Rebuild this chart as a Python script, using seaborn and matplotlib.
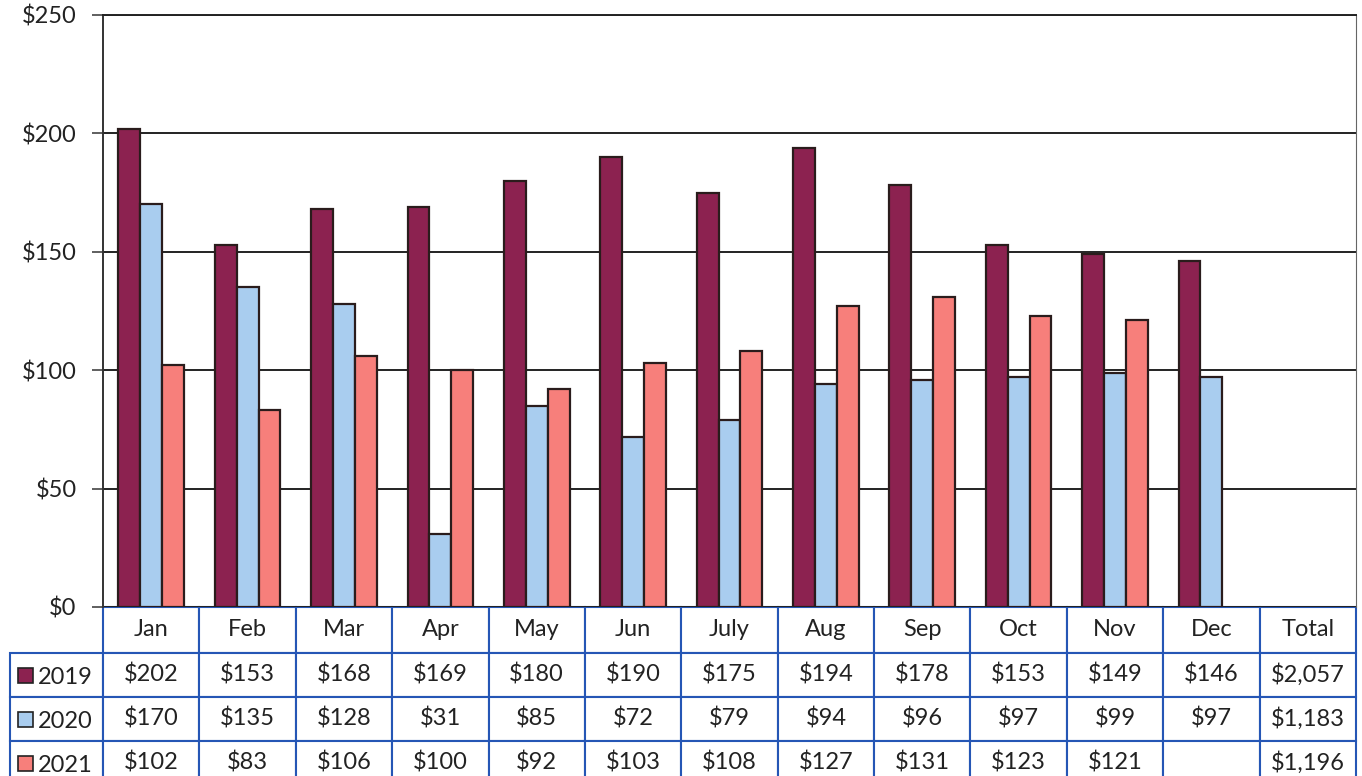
import pandas as pd
import numpy as np
import matplotlib
matplotlib.use('Agg')
import matplotlib.pyplot as plt
import seaborn as sns
from matplotlib.table import Table
from matplotlib.patches import Rectangle

months = ['Jan', 'Feb', 'Mar', 'Apr', 'May', 'Jun', 'July', 'Aug', 'Sep', 'Oct', 'Nov', 'Dec']
cols = months + ['Total']
years = ['2019', '2020', '2021']
v2019 = [202, 153, 168, 169, 180, 190, 175, 194, 178, 153, 149, 146]
v2020 = [170, 135, 128, 31, 85, 72, 79, 94, 96, 97, 99, 97]
v2021 = [102, 83, 106, 100, 92, 103, 108, 127, 131, 123, 121, np.nan]
totals = ['$2,057', '$1,183', '$1,196']
colors = ['#8c2250', '#a9cdef', '#f77f7b']

sns.set_style('white')
plt.rcParams['font.family'] = ['Lato', 'DejaVu Sans']
fs = 17

rows = []
for y, vals in zip(years, [v2019, v2020, v2021]):
    for m, v in zip(months, vals):
        rows.append({'month': m, 'year': y, 'value': v})
df = pd.DataFrame(rows)

fig = plt.figure(figsize=(13.62, 7.76), dpi=100)
ax = fig.add_axes([103/1362, 169/776, 1253/1362, 592/776])

sns.barplot(data=df, x='month', y='value', hue='year', order=cols, hue_order=years,
            palette=colors, width=0.68, gap=0, edgecolor='#2a1c1c', linewidth=1.6,
            saturation=1, legend=False, ax=ax, err_kws={'linewidth': 0})

ax.set_ylim(0, 250)
ax.set_xlim(-0.5, 12.5)
ax.set_yticks(range(0, 251, 50))
ax.set_yticklabels(['$%d' % t for t in range(0, 251, 50)], fontsize=fs, color='#222222')
ax.yaxis.grid(True, color='#222222', linewidth=1.4)
ax.set_axisbelow(True)
ax.tick_params(axis='y', direction='out', length=8, width=1.2, color='#444444', pad=11, left=True)
ax.tick_params(axis='x', bottom=False, labelbottom=False)
ax.set_xlabel('')
ax.set_ylabel('')
ax.spines['left'].set_color('#333333')
ax.spines['left'].set_linewidth(1.4)
ax.spines['right'].set_color('#666666')
ax.spines['top'].set_color('#222222')
ax.spines['top'].set_linewidth(1.4)
ax.spines['bottom'].set_visible(False)

# data table under the plot (bbox covers the data grid, row labels hang to the left)
lab_w = 93/1253
col_w = 1/13
head_h = 46/592
row_h = 44/592
tb = Table(ax, bbox=[0, -(head_h + 3*row_h), 1, head_h + 3*row_h])
blue = '#2556b5'
for j, c in enumerate(cols):
    tb.add_cell(0, j, col_w, head_h, text=c, loc='center')
for i, (y, vals) in enumerate(zip(years, [v2019, v2020, v2021])):
    tb.add_cell(i + 1, -1, lab_w, row_h, text='', loc='center')
    for j, v in enumerate(vals):
        txt = '' if np.isnan(v) else '$%d' % v
        tb.add_cell(i + 1, j, col_w, row_h, text=txt, loc='center')
    tb.add_cell(i + 1, 12, col_w, row_h, text=totals[i], loc='center')
tb.auto_set_font_size(False)
for key, cell in tb.get_celld().items():
    cell.set_edgecolor(blue)
    cell.set_linewidth(1.5)
    cell.get_text().set_fontsize(fs)
    cell.get_text().set_color('#222222')
ax.add_table(tb)

# row labels with colour keys
for i, y in enumerate(years):
    yc = -(head_h + row_h*(i + 0.5))
    ax.add_patch(Rectangle((-lab_w + 8/1253, yc - 8/592), 15/1253, 15/592, transform=ax.transAxes,
                           facecolor=colors[i], edgecolor='#222222', linewidth=1.2, clip_on=False))
    ax.text(-lab_w + 28/1253, yc - 2/592, y, transform=ax.transAxes, fontsize=fs,
            color='#222222', ha='left', va='center')

plt.savefig('out.png', dpi=100)
